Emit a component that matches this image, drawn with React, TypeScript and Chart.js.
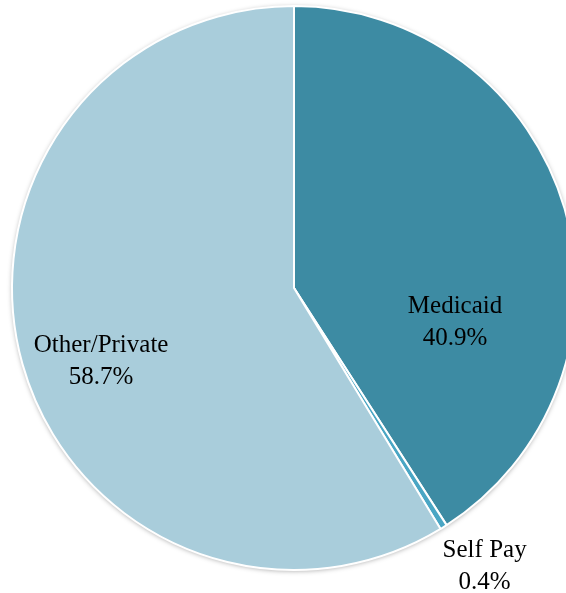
import React, { useEffect, useRef } from "react";
import { Chart, registerables } from "chart.js";

Chart.register(...registerables);

const categories = ["Medicaid", "Self Pay", "Other/Private"];
const shares = [40.9, 0.4, 58.7];
const valueLabels = ["40.9%", "0.4%", "58.7%"];
const sliceColors = ["#3D8BA3", "#4AA6C4", "#A9CDDB"];
// label anchor offsets relative to pie centre (fraction of radius)
const labelOffsetX = [0.571, 0.676, -0.684];
const labelOffsetY = [0.089, 0.954, 0.227];

const labelPlugin = {
  id: "sliceLabels",
  beforeDatasetsDraw(chart: any) {
    const meta = chart.getDatasetMeta(0);
    const arc = meta.data[0];
    if (!arc) return;
    const { x, y, outerRadius } = arc.getProps(["x", "y", "outerRadius"], true);
    const ctx = chart.ctx;
    ctx.save();
    ctx.shadowColor = "rgba(0,0,0,0.35)";
    ctx.shadowBlur = 5;
    ctx.shadowOffsetX = 0;
    ctx.shadowOffsetY = 1;
    ctx.beginPath();
    ctx.arc(x, y, outerRadius, 0, Math.PI * 2);
    ctx.fillStyle = "#ffffff";
    ctx.fill();
    ctx.restore();
  },
  afterDatasetsDraw(chart: any) {
    const meta = chart.getDatasetMeta(0);
    const arc = meta.data[0];
    if (!arc) return;
    const { x, y, outerRadius } = arc.getProps(["x", "y", "outerRadius"], true);
    const ctx = chart.ctx;
    ctx.save();
    ctx.font = '25px "Liberation Serif", serif';
    ctx.fillStyle = "#000000";
    ctx.textAlign = "center";
    ctx.textBaseline = "alphabetic";
    categories.forEach((c, i) => {
      const cx = x + labelOffsetX[i] * outerRadius;
      const cy = y + labelOffsetY[i] * outerRadius;
      ctx.fillText(c, cx, cy);
      ctx.fillText(valueLabels[i], cx, cy + 32);
    });
    ctx.restore();
  },
};

export default function App() {
  const ref = useRef<HTMLCanvasElement>(null);
  useEffect(() => {
    if (!ref.current) return;
    const chart = new Chart(ref.current, {
      type: "pie",
      data: {
        labels: categories,
        datasets: [
          {
            data: shares,
            backgroundColor: sliceColors,
            borderColor: "#ffffff",
            borderWidth: 2,
            hoverOffset: 0,
            radius: 282,
          } as any,
        ],
      },
      options: {
        responsive: false,
        animation: false,
        layout: { padding: { left: 0, right: 0, top: 0, bottom: 17 } },
        plugins: {
          legend: { display: false },
          tooltip: { enabled: false },
        },
        events: [],
      },
      plugins: [labelPlugin],
    });
    return () => chart.destroy();
  }, []);
  return (
    <div
      style={{
        position: "fixed",
        left: 0,
        top: 0,
        width: 566,
        height: 593,
        overflow: "hidden",
        background: "#ffffff",
      }}
    >
      <canvas ref={ref} width={588} height={593} style={{ display: "block" }} />
    </div>
  );
}
